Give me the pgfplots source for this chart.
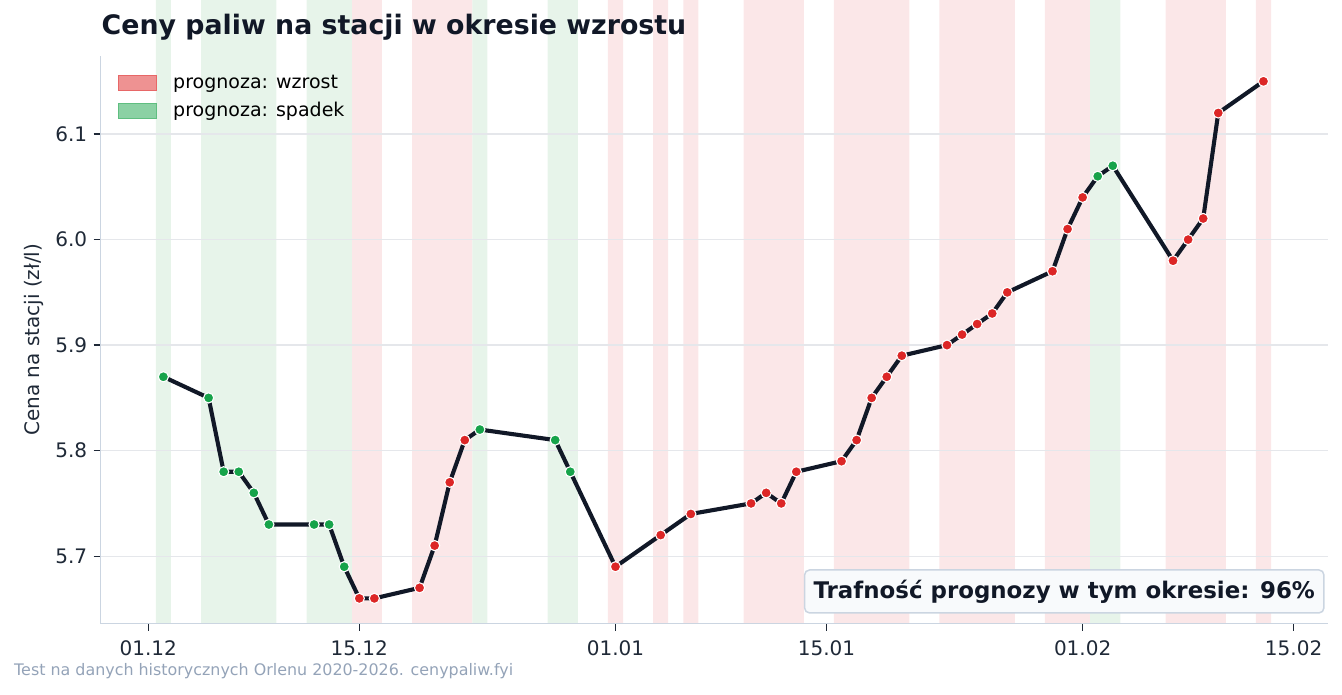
\documentclass[border=0pt]{standalone}
\usepackage{fontspec}
\setmainfont{DejaVu Sans}
\usepackage{pgfplots}
\usepackage{pgfplotstable}
\pgfplotsset{compat=1.18}
\definecolor{cred}{HTML}{DC2626}
\definecolor{cgreen}{HTML}{16A34A}
\definecolor{bandred}{HTML}{FBE7E8}
\definecolor{bandgreen}{HTML}{E7F4EA}
\definecolor{navy}{HTML}{111827}
\definecolor{spine}{HTML}{CBD5E1}
\definecolor{gridc}{HTML}{E5E7EB}
\definecolor{ticktext}{HTML}{1F2937}
\definecolor{foot}{HTML}{94A3B8}
\definecolor{boxfill}{HTML}{F8FAFC}
\definecolor{legred}{HTML}{EE9292}
\definecolor{legreded}{HTML}{E76767}
\definecolor{leggreen}{HTML}{8BD1A4}
\definecolor{leggreened}{HTML}{5FBE80}

% c = 1: prognoza wzrost (red), c = 0: prognoza spadek (green)
\pgfplotstableread{
d p c
1 5.87 0
4 5.85 0
5 5.78 0
6 5.78 0
7 5.76 0
8 5.73 0
11 5.73 0
12 5.73 0
13 5.69 0
14 5.66 1
15 5.66 1
18 5.67 1
19 5.71 1
20 5.77 1
21 5.81 1
22 5.82 0
27 5.81 0
28 5.78 0
31 5.69 1
34 5.72 1
36 5.74 1
40 5.75 1
41 5.76 1
42 5.75 1
43 5.78 1
46 5.79 1
47 5.81 1
48 5.85 1
49 5.87 1
50 5.89 1
53 5.90 1
54 5.91 1
55 5.92 1
56 5.93 1
57 5.95 1
60 5.97 1
61 6.01 1
62 6.04 1
63 6.06 0
64 6.07 0
68 5.98 1
69 6.00 1
70 6.02 1
71 6.12 1
74 6.15 1
}\data

\begin{document}
\begin{tikzpicture}
\begin{axis}[
  name=ax,
  at={(100.7pt,70.3pt)}, anchor=south west,
  scale only axis, width=1227pt, height=567.7pt,
  xmin=-3.16, xmax=78.26, ymin=5.636, ymax=6.174,
  set layers=standard,
  axis x line*=bottom, axis y line*=left,
  axis line style={-, draw=spine, line width=1.5pt},
  xtick={0,14,31,45,62,76},
  xticklabels={01.12,15.12,01.01,15.01,01.02,15.02},
  ytick={5.7,5.8,5.9,6.0,6.1},
  yticklabel style={xshift=-3pt, /pgf/number format/.cd, fixed, fixed zerofill, precision=1, assume math mode=true},
  xticklabel style={yshift=-6pt},
  tick label style={font=\fontsize{20}{24}\selectfont, text=ticktext},
  tick align=outside, major tick length=7pt,
  tick style={draw=ticktext, line width=1.3pt},
  ymajorgrids, grid style={draw=gridc, line width=1.3pt},
  ylabel={Cena na stacji (zł/l)},
  ylabel style={font=\fontsize{20}{24}\selectfont, text=ticktext, at={(axis description cs:-0.0544,0.5)}, anchor=center},
  legend style={at={(axis description cs:0,1)}, anchor=north west, xshift=14pt, yshift=-16pt,
    draw=none, fill=none, font=\fontsize{19}{23}\selectfont, row sep=10pt, column sep=16pt,
    nodes={inner sep=0pt, text height=14pt, text depth=4pt}},
  legend cell align=left,
]
\addplot[on layer=axis background, ybar, bar width=1, bar shift=0pt, fill=bandred, draw=none, forget plot,
  restrict expr to domain={\thisrow{c}}{0.5:1.5}] table[x=d, y expr=6.3] {\data};
\addplot[on layer=axis background, ybar, bar width=1, bar shift=0pt, fill=bandgreen, draw=none, forget plot,
  restrict expr to domain={\thisrow{c}}{-0.5:0.5}] table[x=d, y expr=6.3] {\data};
\addplot[navy, line width=4.1pt, line join=round, no markers, forget plot] table[x=d, y=p] {\data};
\addplot[only marks, mark=*, mark size=5.1pt, mark options={fill=cred, draw=white, line width=1.1pt}, forget plot,
  restrict expr to domain={\thisrow{c}}{0.5:1.5}] table[x=d, y=p] {\data};
\addplot[only marks, mark=*, mark size=5.1pt, mark options={fill=cgreen, draw=white, line width=1.1pt}, forget plot,
  restrict expr to domain={\thisrow{c}}{-0.5:0.5}] table[x=d, y=p] {\data};
\addlegendimage{legend image code/.code={\draw[fill=legred, draw=legreded, line width=1.3pt] (0pt,-7.5pt) rectangle (38pt,7.5pt);}}
\addlegendentry{prognoza: wzrost}
\addlegendimage{legend image code/.code={\draw[fill=leggreen, draw=leggreened, line width=1.3pt] (0pt,-7.5pt) rectangle (38pt,7.5pt);}}
\addlegendentry{prognoza: spadek}
\end{axis}
\node[anchor=south east, xshift=-3pt, yshift=10pt, fill=boxfill, draw=spine, line width=1.5pt, rounded corners=5pt,
  inner xsep=9pt, inner ysep=0pt, minimum height=43pt, font=\fontsize{22.9}{27}\selectfont\bfseries, text=navy]
  at (ax.south east) {Trafność prognozy w tym okresie: 96\%};
\node[anchor=base west, font=\fontsize{26.8}{32}\selectfont\bfseries, text=navy, inner sep=0pt] at (101.5pt,659pt) {Ceny paliw na stacji w okresie wzrostu};
\node[anchor=base west, font=\fontsize{15.9}{19}\selectfont, text=foot, inner sep=0pt] at (14pt,19pt) {Test na danych historycznych Orlenu 2020-2026. cenypaliw.fyi};
\path (0,0) rectangle (1342pt,694pt);
\end{tikzpicture}
\end{document}
